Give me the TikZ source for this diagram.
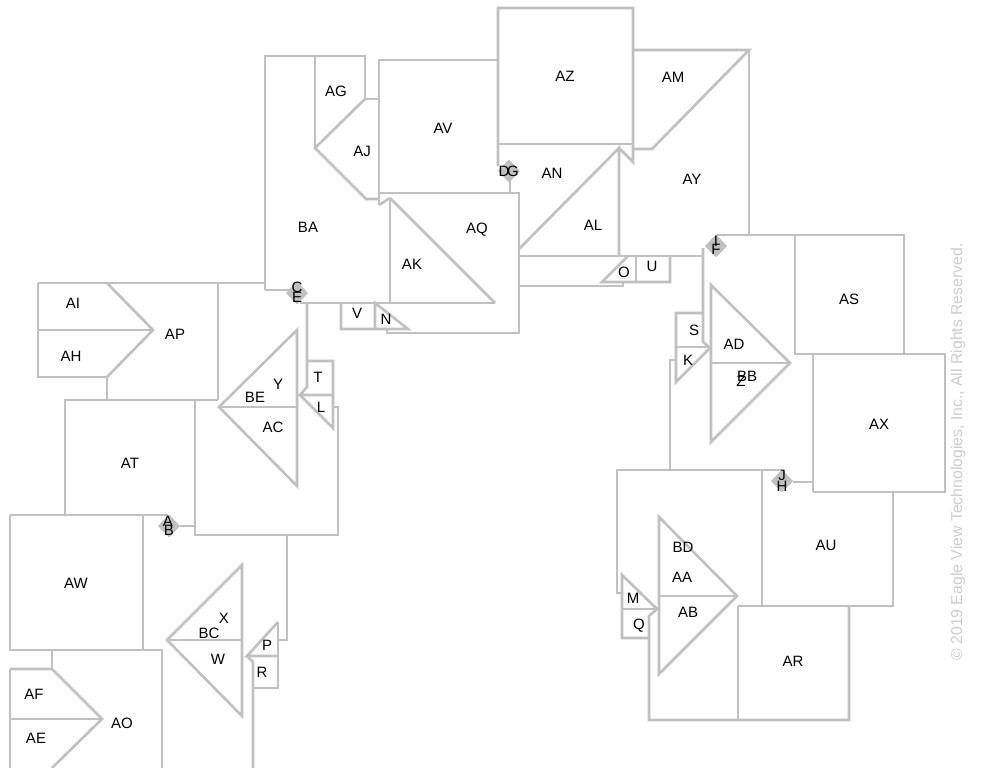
\documentclass[tikz,border=0pt]{standalone}
\usepackage{fontspec}
\setmainfont{Liberation Sans}
\definecolor{roofline}{RGB}{192,192,192}
\definecolor{wmark}{RGB}{205,205,205}
\begin{document}
\begin{tikzpicture}[x=1pt,y=-1pt,
  edge/.style={draw=roofline,line width=2.6pt},
  lbl/.style={font=\fontsize{15}{15}\selectfont,inner sep=0pt,text=black},
  vent/.style={fill=roofline,draw=roofline,line width=0.6pt},
  ventshape/.pic={\path[vent] (-10.5,0) -- (0,-11) -- (10.5,0) -- (0,11) -- cycle;}]
\useasboundingbox (0,0) rectangle (996,768);
\fill[white] (0,0) rectangle (996,768);

% ---------- top centre cluster ----------
\draw[edge] (265,290) -- (265,56) -- (365,56) -- (365,99) -- (379,99);
\draw[edge] (315,56) -- (315,148);
\draw[edge] (365,99) -- (315,148) -- (366,199) -- (379,199);
\draw[edge] (379,205) -- (379,60) -- (497,60);
\draw[edge] (379,205) -- (390,198);
\draw[edge] (390,198) -- (390,303);
\draw[edge] (390,198) -- (495,303);
\draw[edge] (379,193) -- (519,193) -- (519,333) -- (387,333) -- (387,329);
\draw[edge] (265,290) -- (290,290);
\draw[edge] (300,303) -- (495,303);
\draw[edge] (341,303) -- (341,329) -- (408,329) -- (375,303) -- (375,329);
% AZ
\draw[edge] (498,166) -- (498,8) -- (633,8) -- (633,162) -- (619,148);
\draw[edge] (498,144) -- (633,144);
\draw[edge] (510,180) -- (510,193);
% AL
\draw[edge] (519,249) -- (619,148) -- (619,256);
% AM / AY
\draw[edge] (633,149) -- (652,149) -- (749,50) -- (633,50);
\draw[edge] (749,50) -- (749,235);
% strip
\draw[edge] (519,256) -- (703,256);
\draw[edge] (519,286) -- (623,286) -- (623,282);
\draw[edge] (628,256) -- (602,282) -- (670,282) -- (670,256);
\draw[edge] (636,256) -- (636,282);

% ---------- right cluster ----------
\draw[edge] (716,235) -- (904,235) -- (904,354);
\draw[edge] (795,235) -- (795,354) -- (945,354) -- (945,492) -- (813,492);
\draw[edge] (813,354) -- (813,492);
\draw[edge] (793,482) -- (813,482);
\draw[edge] (703,248) -- (703,342) -- (710,348) -- (676,382) -- (676,313) -- (703,313);
\draw[edge] (676,347) -- (710,347);
\draw[edge] (676,360) -- (670,360) -- (670,470);
\draw[edge] (711,285) -- (711,442) -- (790,363) -- cycle;
\draw[edge] (711,363) -- (790,363);
% bottom right
\draw[edge] (622,593) -- (617,593) -- (617,470) -- (782,470);
\draw[edge] (762,470) -- (762,606);
\draw[edge] (738,606) -- (893,606) -- (893,492);
\draw[edge] (738,606) -- (738,720);
\draw[edge] (849,606) -- (849,720) -- (649,720) -- (649,616) -- (657,609) -- (622,575) -- (622,638) -- (649,638);
\draw[edge] (622,609) -- (657,609);
\draw[edge] (659,517) -- (659,674) -- (737,596) -- cycle;
\draw[edge] (659,596) -- (737,596);

% ---------- left cluster ----------
\draw[edge] (38,283) -- (265,283);
\draw[edge] (38,283) -- (38,377) -- (107,377) -- (107,400);
\draw[edge] (107,283) -- (153,330) -- (107,377);
\draw[edge] (38,330) -- (153,330);
\draw[edge] (218,283) -- (218,400);
\draw[edge] (65,515) -- (65,400) -- (218,400);
\draw[edge] (195,400) -- (195,535) -- (338,535) -- (338,407) -- (333,407);
\draw[edge] (297,330) -- (297,486) -- (219,407) -- cycle;
\draw[edge] (219,407) -- (297,407);
\draw[edge] (307,303) -- (307,387) -- (300,395) -- (333,395);
\draw[edge] (307,361) -- (333,361) -- (333,428) -- (300,395);
% AW
\draw[edge] (10,515) -- (168,515);
\draw[edge] (180,526) -- (195,526);
\draw[edge] (10,515) -- (10,650) -- (162,650) -- (162,768);
\draw[edge] (143,515) -- (143,650);
\draw[edge] (287,535) -- (287,640) -- (278,640);
\draw[edge] (278,622) -- (278,688) -- (253,688);
\draw[edge] (278,622) -- (247,656) -- (278,656);
\draw[edge] (247,656) -- (253,662) -- (253,768);
\draw[edge] (242,565) -- (242,716) -- (167,640) -- cycle;
\draw[edge] (167,640) -- (242,640);
% AO
\draw[edge] (52,650) -- (52,669);
\draw[edge] (10,669) -- (52,669) -- (102,719) -- (52,768);
\draw[edge] (10,669) -- (10,768);
\draw[edge] (10,719) -- (102,719);

% ---------- vents ----------
\pic at (297,293) {ventshape};
\pic at (509,171) {ventshape};
\pic at (169,526) {ventshape};
\pic at (716,246) {ventshape};
\pic at (782,481) {ventshape};

% ---------- labels ----------
\node[lbl] (lAG) at (336,91) {AG};
\node[lbl] (lAJ) at (362,151) {AJ};
\node[lbl] (lAV) at (443,128) {AV};
\node[lbl] (lBA) at (308,227) {BA};
\node[lbl] (lAQ) at (477,230) {AQ};
\node[lbl] (lAK) at (412,264) {AK};
\node[lbl] (lV) at (357,313) {V};
\node[lbl] (lN) at (386,319) {N};
\node[lbl] (lC) at (297,287) {C};
\node[lbl] (lE) at (297,297) {E};
\node[lbl] (lAZ) at (565,76) {AZ};
\node[lbl] (lAM) at (673,77) {AM};
\node[lbl] (lD) at (504,171) {D};
\node[lbl] (lG) at (513,171) {G};
\node[lbl] (lAN) at (552,173) {AN};
\node[lbl] (lAY) at (692,179) {AY};
\node[lbl] (lAL) at (593,225) {AL};
\node[lbl] (lO) at (624,272) {O};
\node[lbl] (lU) at (652,266) {U};
\node[lbl] (lI) at (716,241) {I};
\node[lbl] (lF) at (716,249) {F};
\node[lbl] (lAI) at (73,303) {AI};
\node[lbl] (lAH) at (71,356) {AH};
\node[lbl] (lAP) at (175,334) {AP};
\node[lbl] (lAT) at (130,463) {AT};
\node[lbl] (lY) at (278,384) {Y};
\node[lbl] (lBE) at (255,397) {BE};
\node[lbl] (lAC) at (273,427) {AC};
\node[lbl] (lT) at (318,377) {T};
\node[lbl] (lL) at (321,407) {L};
\node[lbl] (lA) at (168,521) {A};
\node[lbl] (lB) at (169,530) {B};
\node[lbl] (lAW) at (76,583) {AW};
\node[lbl] (lX) at (224,618) {X};
\node[lbl] (lBC) at (209,633) {BC};
\node[lbl] (lW) at (218,659) {W};
\node[lbl] (lP) at (267,645) {P};
\node[lbl] (lR) at (262,672) {R};
\node[lbl] (lAF) at (34,694) {AF};
\node[lbl] (lAE) at (36,738) {AE};
\node[lbl] (lAO) at (122,723) {AO};
\node[lbl] (lS) at (694,330) {S};
\node[lbl] (lK) at (688,360) {K};
\node[lbl] (lAD) at (734,344) {AD};
\node[lbl] (lBB) at (747,376) {BB};
\node[lbl] (lZ) at (741,381) {Z};
\node[lbl] (lAS) at (849,299) {AS};
\node[lbl] (lAX) at (879,424) {AX};
\node[lbl] (lJ) at (782,475) {J};
\node[lbl] (lH) at (782,486) {H};
\node[lbl] (lBD) at (683,547) {BD};
\node[lbl] (lAA) at (682,577) {AA};
\node[lbl] (lAB) at (688,612) {AB};
\node[lbl] (lM) at (633,598) {M};
\node[lbl] (lQ) at (639,626) {Q};
\node[lbl] (lAU) at (826,545) {AU};
\node[lbl] (lAR) at (793,661) {AR};

% ---------- watermark ----------
\node[font=\fontsize{15.8}{15.8}\selectfont,text=wmark,inner sep=0pt,rotate=90] (wm) at (958,452) {© 2019 Eagle View Technologies, Inc., All Rights Reserved.};
\end{tikzpicture}
\end{document}
